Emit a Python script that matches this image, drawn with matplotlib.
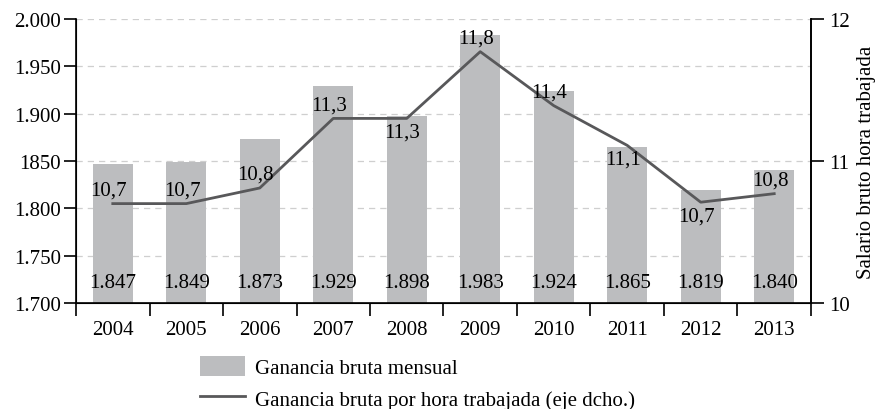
import matplotlib.pyplot as plt
import numpy as np
from matplotlib.patches import Patch
from matplotlib.lines import Line2D

plt.rcParams['font.family'] = ['Liberation Serif', 'DejaVu Serif']

years = ['2004', '2005', '2006', '2007', '2008', '2009', '2010', '2011', '2012', '2013']
ganancia_mensual = [1847, 1849, 1873, 1929, 1898, 1983, 1924, 1865, 1819, 1840]
ganancia_hora = [10.70, 10.70, 10.81, 11.30, 11.30, 11.77, 11.39, 11.11, 10.71, 10.77]
left_ticks = [1700, 1750, 1800, 1850, 1900, 1950, 2000]
left_ticklabels = ['1.700', '1.750', '1.800', '1850', '1.900', '1.950', '2.000']
right_ticks = [10, 11, 12]

# where each line label goes (above / below the point)
label_side = [1, 1, 1, 1, -1, 1, 1, -1, -1, 1]

bar_color = '#bcbdbf'
line_color = '#58585a'
fs = 15

fig = plt.figure(figsize=(8.77, 4.10), dpi=100)
ax = fig.add_axes([0.0867, 0.2585, 0.838, 0.6927])
x = np.arange(len(years))

ax.bar(x, ganancia_mensual, width=0.55, color=bar_color, zorder=2)
ax.set_ylim(1700, 2000)
ax.set_xlim(-0.5, len(years) - 0.5)
ax.set_yticks(left_ticks)
ax.set_yticklabels(left_ticklabels, fontsize=fs)
ax.yaxis.grid(True, color='#cfcfcf', linestyle=(0, (5, 4)), linewidth=0.9, zorder=0)
ax.set_axisbelow(True)

# year labels centred, ticks on category boundaries
ax.set_xticks(x)
ax.set_xticklabels(years, fontsize=fs)
ax.tick_params(axis='x', which='major', length=0, pad=12)
ax.set_xticks(np.arange(len(years) + 1) - 0.5, minor=True)
ax.tick_params(axis='x', which='minor', length=9, width=1.2, direction='out')
ax.tick_params(axis='y', length=9, width=1.2, direction='out', pad=2)
ax.spines['top'].set_visible(False)
for s in ['left', 'right', 'bottom']:
    ax.spines[s].set_linewidth(1.2)

for xi, v in zip(x, ganancia_mensual):
    ax.annotate(f'{v:,}'.replace(',', '.'), (xi, 1700), xytext=(0, 8),
                textcoords='offset points', ha='center', va='bottom', fontsize=fs)

ax2 = ax.twinx()
ax2.plot(x, ganancia_hora, color=line_color, linewidth=2, zorder=3)
ax2.set_ylim(10, 12)
ax2.set_yticks(right_ticks)
ax2.set_yticklabels([str(t) for t in right_ticks], fontsize=fs)
ax2.tick_params(axis='y', length=9, width=1.2, direction='out', pad=4)
ax2.spines['top'].set_visible(False)
ax2.spines['right'].set_linewidth(1.2)
ax2.set_ylabel('Salario bruto hora trabajada', fontsize=fs, labelpad=5)

for xi, v, side in zip(x, ganancia_hora, label_side):
    txt = f'{v:.1f}'.replace('.', ',')
    ax2.annotate(txt, (xi, v), xytext=(-3, 3 * side), textcoords='offset points',
                 ha='center', va='bottom' if side > 0 else 'top', fontsize=fs)

handles = [Patch(facecolor=bar_color, edgecolor='none'),
           Line2D([0], [0], color=line_color, linewidth=2)]
fig.legend(handles, ['Ganancia bruta mensual',
                     'Ganancia bruta por hora trabajada (eje dcho.)'],
           loc='upper left', bbox_to_anchor=(0.228, 0.13), frameon=False,
           fontsize=fs, handlelength=2.16, handleheight=1.15, handletextpad=0.5,
           labelspacing=0.45, borderaxespad=0, borderpad=0)

fig.savefig('out.png', dpi=100)
